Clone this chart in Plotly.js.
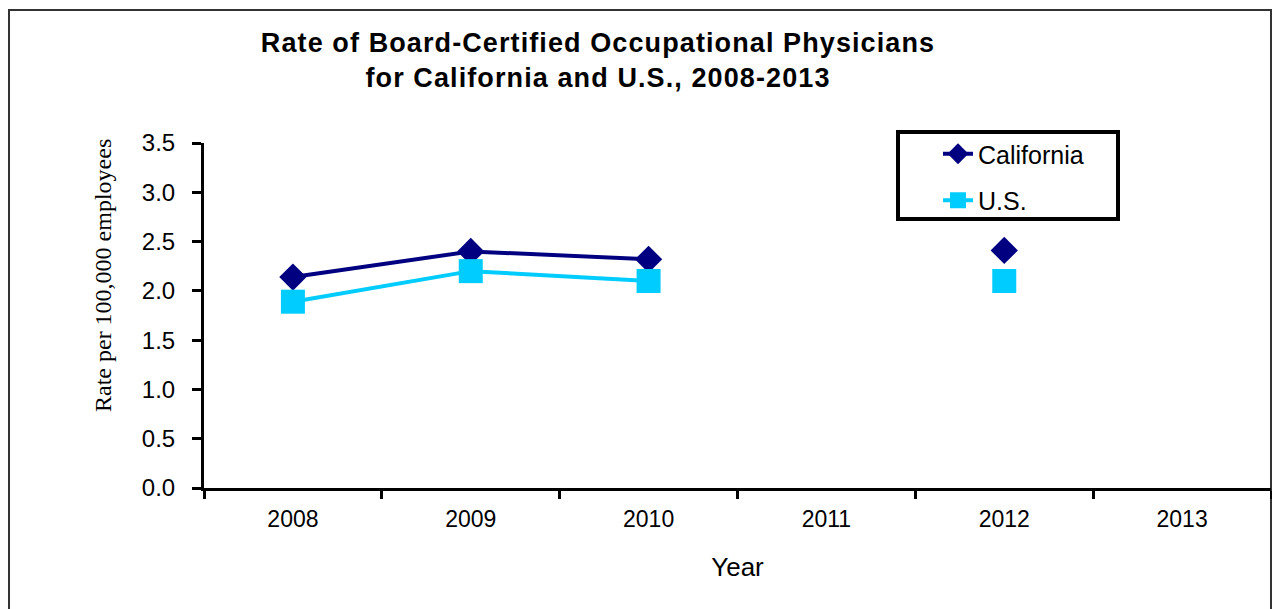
<!DOCTYPE html>
<html>
<head>
<meta charset="utf-8">
<script src="https://cdn.plot.ly/plotly-3.0.1.min.js"></script>
<style>
  html, body { margin: 0; padding: 0; background: #ffffff; }
  #chart { width: 1272px; height: 609px; }
  #chart .gtitle { letter-spacing: 1.1px; }
</style>
</head>
<body>
<div id="chart"></div>
<script>
// ---- data ----
const years = ['2008', '2009', '2010', '2011', '2012', '2013'];
const california = [2.14, 2.40, 2.32, null, 2.41, null];
const us = [1.89, 2.20, 2.10, null, 2.10, null];
const yTicks = [0, 0.5, 1, 1.5, 2, 2.5, 3, 3.5];

const titleText = 'Rate of Board-Certified Occupational Physicians<br>for California and U.S., 2008-2013';
const yTitleText = 'Rate per 100,000 employees';
const xTitleText = 'Year';

const sans = 'Liberation Sans, Arial, sans-serif';
const serif = 'Liberation Serif, Times New Roman, serif';

const traces = [
  {
    type: 'scatter', mode: 'lines+markers', name: 'California',
    x: years, y: california, connectgaps: false,
    legendgroup: 'ca',
    line: { color: '#000080', width: 4 },
    marker: { symbol: 'diamond', size: 21, color: '#000080' }
  },
  {
    type: 'scatter', mode: 'lines+markers', name: 'U.S.',
    x: years, y: us, connectgaps: false,
    legendgroup: 'us',
    line: { color: '#00CCFF', width: 4 },
    marker: { symbol: 'square', size: 24, color: '#00CCFF' }
  }
];

// plot area: x 204..1271, y 143..488
const L = 204, R = 1, T = 143, B = 121;
const W = 1272 - L - R, H = 609 - T - B;
const px = v => (v - L) / W;
const py = v => (609 - B - v) / H;

const layout = {
  width: 1272, height: 609,
  margin: { l: L, r: R, t: T, b: B },
  paper_bgcolor: '#ffffff', plot_bgcolor: '#ffffff',
  font: { family: sans, color: '#000000', size: 24 },
  showlegend: true,
  title: {
    text: titleText,
    font: { family: sans, size: 27, color: '#000000', weight: 'bold' },
    x: 598 / 1272, xanchor: 'center', xref: 'container',
    y: 1 - 52 / 609, yanchor: 'top', yref: 'container'
  },
  xaxis: {
    type: 'category',
    range: [-0.5, 5.5],
    tickson: 'boundaries',
    ticks: 'outside', ticklen: 8, tickwidth: 3, tickcolor: '#000000',
    showline: true, linecolor: '#000000', linewidth: 3,
    showgrid: false, zeroline: false,
    tickfont: { family: sans, size: 23, color: '#000000' },
    ticklabelstandoff: 8,
    title: { text: xTitleText, font: { family: sans, size: 26, color: '#000000' }, standoff: 28 },
    fixedrange: true
  },
  yaxis: {
    range: [0, 3.5],
    tickvals: yTicks,
    tickformat: '.1f',
    ticks: 'outside', ticklen: 9, tickwidth: 3, tickcolor: '#000000',
    showline: true, linecolor: '#000000', linewidth: 3,
    showgrid: false, zeroline: false,
    tickfont: { family: sans, size: 24, color: '#000000' },
    ticklabelstandoff: 12,
    fixedrange: true
  },
  legend: {
    x: px(938), xanchor: 'left',
    y: py(131), yanchor: 'top',
    bgcolor: 'rgba(0,0,0,0)', borderwidth: 0,
    traceorder: 'grouped', tracegroupgap: 11,
    font: { family: sans, size: 25, color: '#000000' },
    itemsizing: 'trace'
  },
  annotations: [
    {
      text: yTitleText, textangle: -90,
      xref: 'paper', yref: 'paper',
      x: px(103), y: py(276), xanchor: 'center', yanchor: 'middle',
      showarrow: false,
      font: { family: serif, size: 24, color: '#000000' }
    }
  ],
  shapes: [
    { type: 'rect', xref: 'paper', yref: 'paper',
      x0: px(9), x1: px(1271), y0: py(700), y1: py(10),
      line: { color: '#333333', width: 2 }, fillcolor: 'rgba(0,0,0,0)', layer: 'below' },
    { type: 'rect', xref: 'paper', yref: 'paper',
      x0: px(898), x1: px(1118), y0: py(219), y1: py(132),
      line: { color: '#000000', width: 4 }, fillcolor: 'rgba(0,0,0,0)', layer: 'above' }
  ]
};

Plotly.newPlot('chart', traces, layout, { displayModeBar: false, staticPlot: true });
</script>
</body>
</html>
